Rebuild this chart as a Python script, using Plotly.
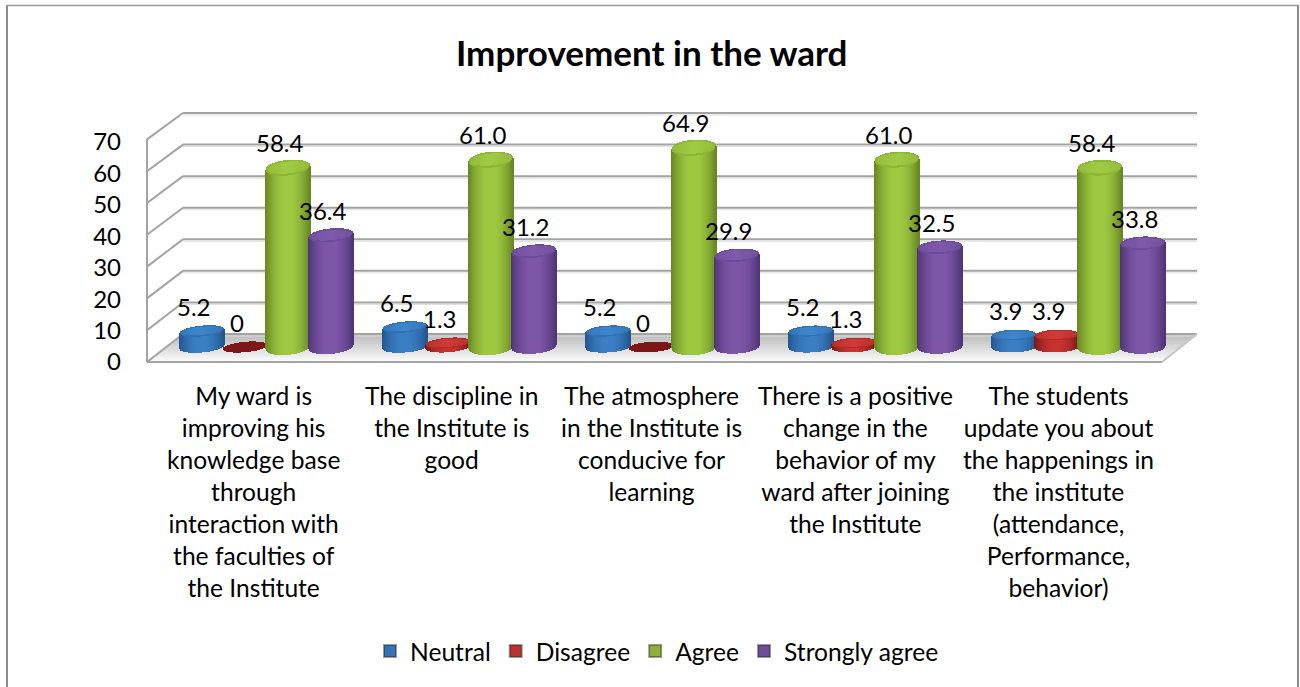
import plotly.graph_objects as go
import math

# ---------- data ----------
categories = [
    "My ward is<br>improving his<br>knowledge base<br>through<br>interaction with<br>the faculties of<br>the Institute",
    "The discipline in<br>the Institute is<br>good",
    "The atmosphere<br>in the Institute is<br>conducive for<br>learning",
    "There is a positive<br>change in the<br>behavior of my<br>ward after joining<br>the Institute",
    "The students<br>update you about<br>the happenings in<br>the institute<br>(attendance,<br>Performance,<br>behavior)",
]
series_names = ["Neutral", "Disagree", "Agree", "Strongly agree"]
neutral = [5.2, 6.5, 5.2, 5.2, 3.9]
disagree = [0, 1.3, 0, 1.3, 3.9]
agree = [58.4, 61.0, 64.9, 61.0, 58.4]
strongly_agree = [36.4, 31.2, 29.9, 32.5, 33.8]
label_text = [
    ["5.2", "6.5", "5.2", "5.2", "3.9"],
    ["0", "1.3", "0", "1.3", "3.9"],
    ["58.4", "61.0", "64.9", "61.0", "58.4"],
    ["36.4", "31.2", "29.9", "32.5", "33.8"],
]
y_ticks = [0, 10, 20, 30, 40, 50, 60, 70]
series = [neutral, disagree, agree, strongly_agree]

# ---------- page geometry ----------
W, H = 1300, 687
FONT = "Lato"
G0, GSTEP, SSTEP, RAD = 267.0, 203.0, 43.0, 22.0   # px
BASE_PX, SCALE = 347.0, 3.07                       # bars
TICK0_PX, TICK_SCALE = 362.0, 3.143                # value-axis labels

palette = [
    dict(edge=(36, 86, 144), mid=(58, 126, 196), cap=(62, 134, 206), rim=(46, 104, 168), flat=(44, 100, 165)),
    dict(edge=(122, 26, 26), mid=(198, 50, 46), cap=(208, 60, 56), rim=(165, 38, 36), flat=(125, 22, 24)),
    dict(edge=(104, 136, 36), mid=(158, 200, 64), cap=(160, 204, 68), rim=(136, 174, 50), flat=(132, 172, 48)),
    dict(edge=(80, 54, 120), mid=(126, 86, 168), cap=(128, 90, 172), rim=(102, 72, 146), flat=(100, 70, 146)),
]
legend_colors = ["#3573b5", "#b8322f", "#8db13a", "#6d4c9a"]


def mix(a, b, t):
    return "rgb(%d,%d,%d)" % tuple(round(a[i] + (b[i] - a[i]) * t) for i in range(3))


def px_x(p):
    return p / W


def px_y(p):
    return 1 - p / H


fig = go.Figure()
unit = GSTEP
dx_strip = 1.0
n_half = int(RAD)

for j, vals in enumerate(series):
    pal = palette[j]
    xs, ys, bases, cols, widths = [], [], [], [], []
    for i, v in enumerate(vals):
        cx_u = i + (j - 1.5) * SSTEP / unit
        tilt = (2.0 - 0.3 * i) / SCALE
        b = (5.2 + 0.045 * v) / SCALE
        for k in range(-n_half, n_half + 1):
            t = k / RAD
            c = math.sqrt(max(0.0, 1 - t * t))
            x = cx_u + k / unit
            low = -b * c + tilt * t
            hi_front = v - b * c + tilt * t
            # body
            if v > 0:
                xs.append(x); bases.append(low); ys.append(hi_front - low)
                cols.append(mix(pal["edge"], pal["mid"], min(1.0, (1 - abs(t) ** 1.9) * 1.05)))
                widths.append(1.4 * dx_strip / unit)
            # cap, rim ring
            xs.append(x); bases.append(v - b * c + tilt * t); ys.append(2 * b * c)
            cols.append(mix(pal["rim"], pal["cap"], 0.25) if v > 0 else mix(pal["flat"], pal["flat"], 0))
            widths.append(1.4 * dx_strip / unit)
        if v > 0:
            # inner, lighter part of the cap
            for k in range(-n_half + 2, n_half - 1):
                t = k / (RAD - 2)
                c = math.sqrt(max(0.0, 1 - t * t))
                x = cx_u + k / unit
                xs.append(x); bases.append(v - 0.72 * b * c + tilt * t); ys.append(1.5 * b * c)
                cols.append(mix(pal["rim"], pal["cap"], 1 - 0.5 * abs(t)))
                widths.append(1.4 * dx_strip / unit)
    fig.add_trace(go.Bar(x=xs, y=ys, base=bases, width=widths,
                         marker=dict(color=cols, line=dict(width=0)),
                         showlegend=False, hoverinfo="skip"))

# legend swatches
for name, col in zip(series_names, legend_colors):
    fig.add_trace(go.Bar(x=[None], y=[None], name=name,
                         marker=dict(color=col, line=dict(width=1, color="rgba(40,40,40,0.45)"))))

# keeps the value axis alive
fig.add_trace(go.Scatter(x=[None], y=[None], yaxis="y2", showlegend=False, hoverinfo="skip"))

# ---------- walls ----------
shapes = []
FL, BL, BR, FR = 147, 183, 1197, 1162
GRAY, SOFT = "#a3a3a3", "#dedede"


def seg(x0, y0, x1, y1, color=GRAY, w=2):
    shapes.append(dict(type="line", xref="paper", yref="paper", layer="below",
                       x0=px_x(x0), y0=px_y(y0), x1=px_x(x1), y1=px_y(y1),
                       line=dict(color=color, width=w)))


# floor gradient
bands = 14
for b in range(bands):
    f0, f1 = b / bands, (b + 1) / bands
    y0, y1 = 334 + 28 * f0, 334 + 28 * f1
    x0l, x1l = BL + (FL - BL) * f0, BL + (FL - BL) * f1
    x0r, x1r = BR + (FR - BR) * f0, BR + (FR - BR) * f1
    g = round(188 + 66 * f0)
    path = "M%f,%f L%f,%f L%f,%f L%f,%f Z" % (px_x(x0l), px_y(y0), px_x(x0r), px_y(y0),
                                              px_x(x1r), px_y(y1), px_x(x1l), px_y(y1))
    shapes.append(dict(type="path", xref="paper", yref="paper", layer="below", path=path,
                       fillcolor="rgb(%d,%d,%d)" % (g, g, g), line=dict(width=0)))

for k in range(len(y_ticks)):
    yb = 334 - k * 31.57
    yf = 362 - k * 31.8
    seg(BL, yb + 2, BR, yb + 2, SOFT, 1)
    seg(FL, yf, BL, yb)
    seg(BL, yb, BR, yb)
seg(FL, 362, FL, 139)
seg(FL, 362, FR, 362)
seg(FR, 362, BR, 334, "#c4c4c4", 2)

# outer frame
seg(7, 5, 7, H, "#8c8c8c", 2)
seg(7, 5.5, 1298, 5.5, "#9a9a9a", 1.5)
seg(1298, 5, 1298, H, "#8c8c8c", 2)

# ---------- text ----------
annotations = [dict(text="<b>Improvement in the ward</b>", x=px_x(652), y=px_y(52), xref="paper", yref="paper",
                    showarrow=False, font=dict(family=FONT, size=35, color="black"),
                    xanchor="center", yanchor="middle")]

label_cx = [253, 451, 651, 855, 1058]
for cat, cx in zip(categories, label_cx):
    annotations.append(dict(text=cat, x=px_x(cx), y=px_y(379), xref="paper", yref="paper", showarrow=False,
                            font=dict(family=FONT, size=24.6, color="black"),
                            xanchor="center", yanchor="top", align="center"))

for j, vals in enumerate(series):
    for i, v in enumerate(vals):
        annotations.append(dict(text=label_text[j][i], x=i + (j - 1.5) * SSTEP / unit, y=v,
                                xref="x", yref="y", showarrow=False, xshift=-9, yshift=25,
                                font=dict(family=FONT, size=24, color="black"),
                                xanchor="center", yanchor="middle"))

fig.update_layout(
    width=W, height=H, margin=dict(l=0, r=0, t=0, b=0), autosize=False,
    paper_bgcolor="white", plot_bgcolor="rgba(0,0,0,0)",
    barmode="overlay", bargap=0,
    font=dict(family=FONT, size=24, color="black"),
    xaxis=dict(range=[-G0 / unit, (W - G0) / unit], visible=False, domain=[0, 1], fixedrange=True),
    yaxis=dict(range=[-(H - BASE_PX) / SCALE, BASE_PX / SCALE], visible=False, domain=[0, 1], fixedrange=True),
    yaxis2=dict(range=[-(H - TICK0_PX) / TICK_SCALE, TICK0_PX / TICK_SCALE], overlaying="y", anchor="free",
                position=121 / W, side="left", tickvals=y_ticks, ticks="", showgrid=False, zeroline=False,
                showline=False, tickfont=dict(family=FONT, size=24, color="black"), fixedrange=True),
    legend=dict(orientation="h", x=px_x(657), xanchor="center", y=px_y(651), yanchor="middle",
                font=dict(family=FONT, size=24.6, color="black"), bgcolor="rgba(0,0,0,0)",
                itemsizing="constant", traceorder="normal"),
    shapes=shapes, annotations=annotations,
)

fig.write_html("out.html", config={"displayModeBar": False},
               post_script="document.body.style.margin='0';document.documentElement.style.overflow='hidden';")
